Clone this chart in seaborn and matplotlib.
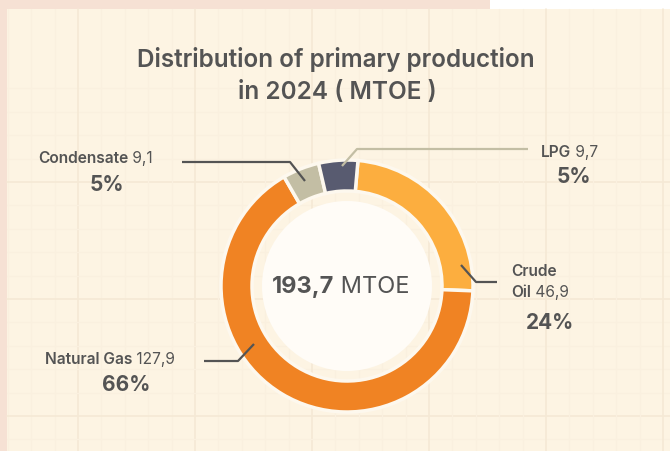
import matplotlib.pyplot as plt
import seaborn as sns
from matplotlib.patches import Circle, Rectangle

# data
sources = ["Crude Oil", "Natural Gas", "Condensate", "LPG"]
mtoe = [46.9, 127.9, 9.1, 9.7]
total_label = "193,7"
unit = "MTOE"
colors = ["#FCAE3F", "#F08323", "#C3BEA4", "#585B70"]

sns.set_style("white")
plt.rcParams["font.family"] = ["Inter", "DejaVu Sans"]

PANEL = "#FDF4E3"
TEXT = "#545454"
W, H = 670, 452
CX, CY = 347, 287

fig = plt.figure(figsize=(W / 100, H / 100), dpi=100)
fig.patch.set_facecolor("#F6E1D4")
ax = fig.add_axes([0, 0, 1, 1])
ax.set_facecolor("none")

# page background + faint grid
ax.add_patch(Rectangle((490, 0), 180, 10, fc="white", ec="none", zorder=0))
ax.add_patch(Rectangle((7, 10), W, H, fc=PANEL, ec="none", zorder=0))
step = 23.4
for i in range(-4, 30):
    x = 78 + step * i
    y = 183 + step * i
    major = i % 5 == 0
    c = "#F5E9D5" if major else "#FAF0DF"
    if 7 < x < W:
        ax.plot([x, x], [10, H], color=c, lw=1.2 if major else 0.9, zorder=0.5)
    if 10 < y < H:
        ax.plot([7, W], [y, y], color=c, lw=1.2 if major else 0.9, zorder=0.5)

# donut (y axis inverted -> counterclock in data = clockwise on screen)
palette = sns.color_palette(colors)
ax.pie(mtoe, colors=palette, startangle=-85, counterclock=True,
       center=(CX, CY), radius=126,
       wedgeprops=dict(width=31, edgecolor="#FDF8EE", linewidth=2.5))
ax.add_patch(Circle((CX, CY), 85, fc="#FFFCF7", ec="none", zorder=3))
ax.set_xlim(0, W)
ax.set_ylim(H, 0)
ax.set_aspect("equal")
ax.axis("off")

renderer = fig.canvas.get_renderer()


def width(t):
    return t.get_window_extent(renderer).width


def two_part(x, y, first, second, size, w1="semibold", w2="normal"):
    t1 = ax.text(x, y, first, fontsize=size, fontweight=w1, color=TEXT,
                 va="center", ha="left", zorder=5)
    ax.text(x + width(t1), y, second, fontsize=size, fontweight=w2,
            color=TEXT, va="center", ha="left", zorder=5)


# title
ax.text(336, 60, "Distribution of primary production", ha="center", va="center",
        fontsize=17.5, fontweight="semibold", color=TEXT)
ax.text(337, 92, "in 2024 ( MTOE )", ha="center", va="center",
        fontsize=17.5, fontweight="semibold", color=TEXT)

# center total
tb = ax.text(0, 0, total_label, fontsize=17, fontweight="bold", alpha=0)
tr = ax.text(0, 0, " " + unit, fontsize=17, alpha=0)
x0 = 341 - (width(tb) + width(tr)) / 2
two_part(x0, CY, total_label, " " + unit, 17, w1="bold")

# labels: (name lines top-left x, first line y, pct center x, pct y)
layout = {
    "Crude Oil": (511, 272, 550, 323),
    "Natural Gas": (45, 360, 126, 385),
    "Condensate": (38, 159, 107, 185),
    "LPG": (541, 153, 574, 177),
}
leaders = {
    "Crude Oil": ([497, 476, 461], [283, 283, 266], TEXT),
    "Natural Gas": ([204, 238, 254], [362, 362, 345], TEXT),
    "Condensate": ([182, 290, 305], [163, 163, 182], TEXT),
    "LPG": ([528, 357, 342], [150, 150, 167], "#C3BEA4"),
}
wrap = {"Crude Oil": ["Crude", "Oil"]}

total = sum(mtoe)
for name, val in zip(sources, mtoe):
    lx, ly, px, py = layout[name]
    lines = wrap.get(name, [name])
    for k, line in enumerate(lines[:-1]):
        ax.text(lx, ly + 21 * k, line, fontsize=11.2, fontweight="semibold",
                color=TEXT, va="center", ha="left", zorder=5)
    two_part(lx, ly + 21 * (len(lines) - 1), lines[-1],
             " " + f"{val:.1f}".replace(".", ","), 11.2)
    ax.text(px, py, f"{round(val / total * 100)}%", fontsize=15,
            fontweight="bold", color=TEXT, ha="center", va="center", zorder=5)
    xs, ys, c = leaders[name]
    ax.plot(xs, ys, color=c, lw=1.6, zorder=4, solid_capstyle="butt")

fig.savefig("out.png", dpi=100, facecolor=fig.get_facecolor())
